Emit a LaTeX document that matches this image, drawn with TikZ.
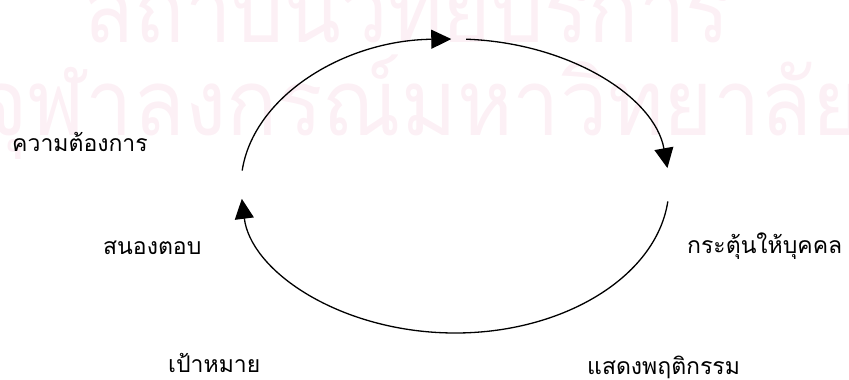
\documentclass[tikz,border=0pt]{standalone}
\usepackage{fontspec}
\usepackage{graphicx}
\newfontfamily\thaifont[Script=Thai]{Loma}
\usetikzlibrary{arrows.meta}
\definecolor{wmpink}{RGB}{252,240,245}
\tikzset{
  lbl/.style={anchor=base west, inner sep=0pt,
              font=\thaifont\fontsize{23}{23}\selectfont},
  wm/.style={anchor=base west, inner sep=0pt, text=wmpink,
             font=\thaifont\fontsize{92}{92}\selectfont},
  cyc/.style={line width=1.3pt, -{Triangle[length=20pt,width=19pt]}}
}

\begin{document}
\begin{tikzpicture}[x=1pt,y=1pt]
\useasboundingbox (0,0) rectangle (849,380);

% watermark
\begin{scope}
\clip (0,0) rectangle (849,380);
\node[wm] (wmTop) at (84,337) {\resizebox{646pt}{\height}{สถาบันวิทยบริการ}};
\node[wm] (wmBot) at (-22,244) {\resizebox{884pt}{\height}{จุฬาลงกรณ์มหาวิทยาลัย}};
\end{scope}

\coordinate (C) at (455,194);

\draw[cyc] (C) ++(174:214pt and 147pt)
  arc[start angle=174, end angle=91, x radius=214pt, y radius=147pt];
\draw[cyc] (C) ++(87:214pt and 147pt)
  arc[start angle=87, end angle=7, x radius=214pt, y radius=147pt];
\draw[cyc] (C) ++(-6:214pt and 147pt)
  arc[start angle=-6, end angle=-175, x radius=214pt, y radius=147pt];

\node[lbl] (need)   at (12,228)  {ความต้องการ};
\node[lbl] (resp)   at (103,125) {สนองตอบ};
\node[lbl] (drive)  at (687,126) {กระตุ้นให้บุคคล};
\node[lbl] (goal)   at (168,7)   {เป้าหมาย};
\node[lbl] (behave) at (587,5)   {แสดงพฤติกรรม};

\end{tikzpicture}
\end{document}
